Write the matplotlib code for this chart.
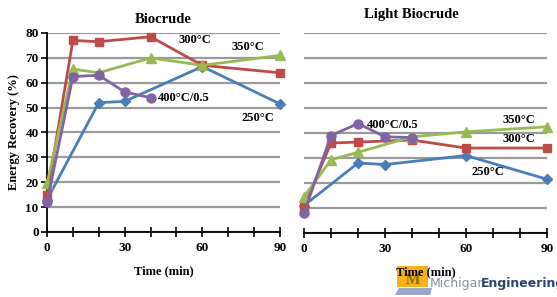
import matplotlib
matplotlib.use("Agg")
import matplotlib.pyplot as plt
import matplotlib.patches as mpatches
from matplotlib.ticker import MultipleLocator

plt.rcParams["font.family"] = ["Liberation Serif", "DejaVu Serif"]
plt.rcParams["font.weight"] = "bold"

# Biocrude (left panel)
bio_t = {
    "250°C": [0, 20, 30, 60, 90],
    "300°C": [0, 10, 20, 40, 60, 90],
    "350°C": [0, 10, 20, 40, 60, 90],
    "400°C/0.5": [0, 10, 20, 30, 40],
}
bio_y = {
    "250°C": [13, 52, 52.5, 66.5, 51.5],
    "300°C": [15, 77, 76.5, 78.5, 67, 64],
    "350°C": [19.5, 65.5, 64, 70, 67, 71],
    "400°C/0.5": [12, 62.5, 63, 56.3, 54],
}

# Light biocrude (right panel)
light_t = {
    "250°C": [0, 20, 30, 60, 90],
    "300°C": [0, 10, 20, 40, 60, 90],
    "350°C": [0, 10, 20, 40, 60, 90],
    "400°C/0.5": [0, 10, 20, 30, 40],
}
light_y = {
    "250°C": [11, 28, 27.4, 31, 21.5],
    "300°C": [10.5, 36, 36.4, 37.2, 34, 34],
    "350°C": [14.5, 29.3, 32.3, 38.5, 40.5, 42.5],
    "400°C/0.5": [8, 39, 43.8, 38.5, 38.2],
}

STYLE = {
    "250°C":     ("#4A7EBB", "D", 5),
    "300°C":     ("#BE4B48", "s", 6),
    "350°C":     ("#98B954", "^", 6.5),
    "400°C/0.5": ("#8064A2", "o", 6.5),
}
ORDER = ["250°C", "300°C", "350°C", "400°C/0.5"]

fig = plt.figure(figsize=(5.57, 2.97), dpi=100)
fig.patch.set_facecolor("white")

axL = fig.add_axes([0.0844, 0.2189, 0.4183, 0.670])
axR = fig.add_axes([0.5458, 0.2155, 0.4363, 0.673])


def style_axis(ax, show_y):
    ax.set_xlim(0, 90)
    ax.set_ylim(0, 80)
    ax.yaxis.set_major_locator(MultipleLocator(10))
    ax.xaxis.set_major_locator(MultipleLocator(30))
    ax.xaxis.set_minor_locator(MultipleLocator(10))
    ax.grid(axis="y", color="#9A9A9A", linewidth=1.6, zorder=0)
    ax.set_axisbelow(True)
    ax.patch.set_alpha(0)
    for s in ["top", "right"]:
        ax.spines[s].set_visible(False)
    ax.spines["bottom"].set_color("black")
    ax.spines["bottom"].set_linewidth(1.3)
    ax.tick_params(axis="x", which="both", direction="inout", length=7,
                   width=1.2, labelsize=9.5, pad=4)
    if show_y:
        ax.spines["left"].set_linewidth(1.3)
        ax.tick_params(axis="y", direction="out", length=4, width=1.2,
                       labelsize=9.5, pad=2)
    else:
        ax.spines["left"].set_visible(False)
        ax.tick_params(axis="y", left=False, labelleft=False)
    ax.set_xlabel("Time (min)", fontsize=9, fontweight="bold", labelpad=8)


for ax, tt, yy in [(axL, bio_t, bio_y), (axR, light_t, light_y)]:
    for name in ORDER:
        c, m, ms = STYLE[name]
        ax.plot(tt[name], yy[name], color=c, marker=m, markersize=ms,
                linewidth=2.0, clip_on=False, zorder=3)

style_axis(axL, True)
style_axis(axR, False)

axL.set_ylabel("Energy Recovery (%)", fontsize=9, fontweight="bold", labelpad=4)
axL.set_title("Biocrude", fontsize=10.5, fontweight="bold", pad=7)
axR.set_title("Light Biocrude", fontsize=10.5, fontweight="bold", pad=11,
              x=0.44)

lab = dict(fontsize=9, fontweight="bold", va="center", zorder=5)
axL.text(57.2, 77.2, "300°C", ha="center", **lab)
axL.text(77.6, 74.4, "350°C", ha="center", **lab)
axL.text(43, 54, "400°C/0.5", ha="left", **lab)
axL.text(75.3, 45.8, "250°C", ha="left", **lab)

axR.text(23.3, 43.2, "400°C/0.5", ha="left", **lab)
axR.text(73.5, 45.2, "350°C", ha="left", **lab)
axR.text(73.5, 37.6, "300°C", ha="left", **lab)
axR.text(62.2, 24.4, "250°C", ha="left", **lab)

# Michigan Engineering logo, bottom right (drawn beneath the axes text)
fig.patches.append(mpatches.Polygon(
    [(395 / 557, 2 / 297), (430 / 557, 2 / 297), (432 / 557, 9 / 297), (399 / 557, 9 / 297)],
    closed=True, transform=fig.transFigure, facecolor="#9AA8C8", edgecolor="none",
    zorder=-2))
fig.patches.append(mpatches.Rectangle((397 / 557, 10 / 297), 31 / 557, 21 / 297,
                                      transform=fig.transFigure,
                                      facecolor="#F5B21A", edgecolor="none",
                                      zorder=-2))
fig.text(412.5 / 557, 17 / 297, "M", ha="center", va="center", fontsize=11,
         color="#8A6A10", fontweight="bold", zorder=-1)
fig.text(430 / 557, 13 / 297, "Michigan", ha="left", va="center",
         fontsize=9, color="#7F8FA8", family="DejaVu Sans", fontweight="normal")
fig.text(481 / 557, 13 / 297, "Engineering", ha="left", va="center",
         fontsize=9, color="#2C4270", family="DejaVu Sans", fontweight="bold")

fig.savefig("out.png", dpi=100)
